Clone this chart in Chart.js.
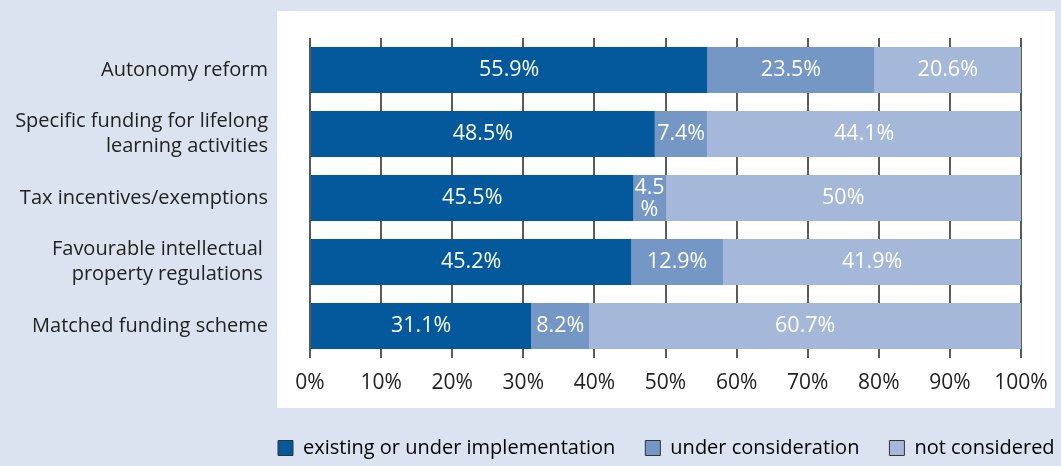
<!DOCTYPE html>
<html>
<head>
<meta charset="utf-8">
<script src="https://cdn.jsdelivr.net/npm/chart.js@4"></script>
<style>
  html, body { margin: 0; padding: 0; background: #dce3f0; }
  #wrap { width: 1061px; height: 466px; }
</style>
</head>
<body>
<div id="wrap"><canvas id="myChart" width="1061" height="466"></canvas></div>
<script>
// chart data
const categories = [
  'Autonomy reform',
  ['Specific funding for lifelong', 'learning activities'],
  'Tax incentives/exemptions',
  ['Favourable intellectual ', 'property regulations '],
  'Matched funding scheme'
]
const seriesNames = ['existing or under implementation', 'under consideration', 'not considered']
const existing = [55.9, 48.5, 45.5, 45.2, 31.1]
const consideration = [23.5, 7.4, 4.5, 12.9, 8.2]
const notConsidered = [20.6, 44.1, 50, 41.9, 60.7]
const xTicks = [0, 10, 20, 30, 40, 50, 60, 70, 80, 90, 100]

const colors = ['#03599c', '#7497c6', '#a5b8da']
const FONT = '"Open Sans", "Noto Sans", sans-serif'

// white panel behind the plot + legend placement
const panelPlugin = {
  id: 'panel',
  afterLayout(chart) {
    const ca = chart.chartArea
    const lg = chart.legend
    if (lg) {
      // legend starts under the panel's left edge; keep it on one row
      const pad = lg.options.labels.padding
      lg.left = ca.left - 32 - pad
      lg.right = chart.width + 200
    }
  },
  beforeDraw(chart) {
    const { ctx, chartArea: ca } = chart
    ctx.save()
    ctx.fillStyle = '#ffffff'
    ctx.fillRect(ca.left - 33, ca.top - 27, (ca.right + 34) - (ca.left - 33), (ca.bottom + 50) - (ca.top - 27))
    ctx.restore()
  }
}

// value labels inside bars (wrap when bar is too narrow)
const barLabels = {
  id: 'barLabels',
  afterDatasetsDraw(chart) {
    const ctx = chart.ctx
    ctx.save()
    ctx.font = '21.5px ' + FONT
    ctx.fillStyle = '#ffffff'
    ctx.textAlign = 'center'
    ctx.textBaseline = 'middle'
    chart.data.datasets.forEach((ds, i) => {
      const meta = chart.getDatasetMeta(i)
      meta.data.forEach((bar, j) => {
        const text = ds.data[j] + '%'
        const w = Math.abs(bar.x - bar.base)
        const cx = (bar.x + bar.base) / 2
        if (ctx.measureText(text).width > w) {
          ctx.fillText(String(ds.data[j]), cx, bar.y - 10)
          ctx.fillText('%', cx, bar.y + 12)
        } else {
          ctx.fillText(text, cx, bar.y)
        }
      })
    })
    ctx.restore()
  }
}

const ctx = document.getElementById('myChart')

new Chart(ctx, {
  type: 'bar',
  data: {
    labels: categories,
    datasets: [existing, consideration, notConsidered].map((vals, i) => ({
      label: seriesNames[i],
      data: vals,
      backgroundColor: colors[i],
      borderWidth: 0,
      barPercentage: 0.72,
      categoryPercentage: 1
    }))
  },
  options: {
    indexAxis: 'y',
    responsive: false,
    animation: false,
    layout: { padding: { top: 38, right: 40, bottom: 0, left: 10 } },
    scales: {
      x: {
        stacked: true,
        min: 0,
        max: 100,
        afterBuildTicks: (scale) => { scale.ticks = xTicks.map(v => ({ value: v })) },
        afterFit: (scale) => { scale.height = 50 },
        grid: { color: '#5a5a5a', lineWidth: 2, drawTicks: false },
        border: { display: false },
        ticks: {
          padding: 12,
          color: '#222',
          font: { family: FONT, size: 21 },
          callback: (v) => v + '%'
        }
      },
      y: {
        stacked: true,
        afterFit: (scale) => {
          scale.width = 300
          scale.paddingTop = 0
          scale.paddingBottom = 0
        },
        grid: { display: false },
        border: { display: false },
        ticks: {
          padding: 34,
          color: '#222',
          font: { family: FONT, size: 20, lineHeight: 1.25 }
        }
      }
    },
    plugins: {
      tooltip: { enabled: false },
      legend: {
        position: 'bottom',
        align: 'start',
        maxHeight: 58,
        labels: {
          padding: 30,
          boxWidth: 15,
          boxHeight: 15,
          color: '#222',
          font: { family: FONT, size: 20 },
          generateLabels: (chart) => chart.data.datasets.map((ds, i) => ({
            text: ds.label,
            fillStyle: ds.backgroundColor,
            strokeStyle: '#333',
            lineWidth: 1,
            datasetIndex: i
          }))
        }
      }
    }
  },
  plugins: [panelPlugin, barLabels]
})
</script>
</body>
</html>
